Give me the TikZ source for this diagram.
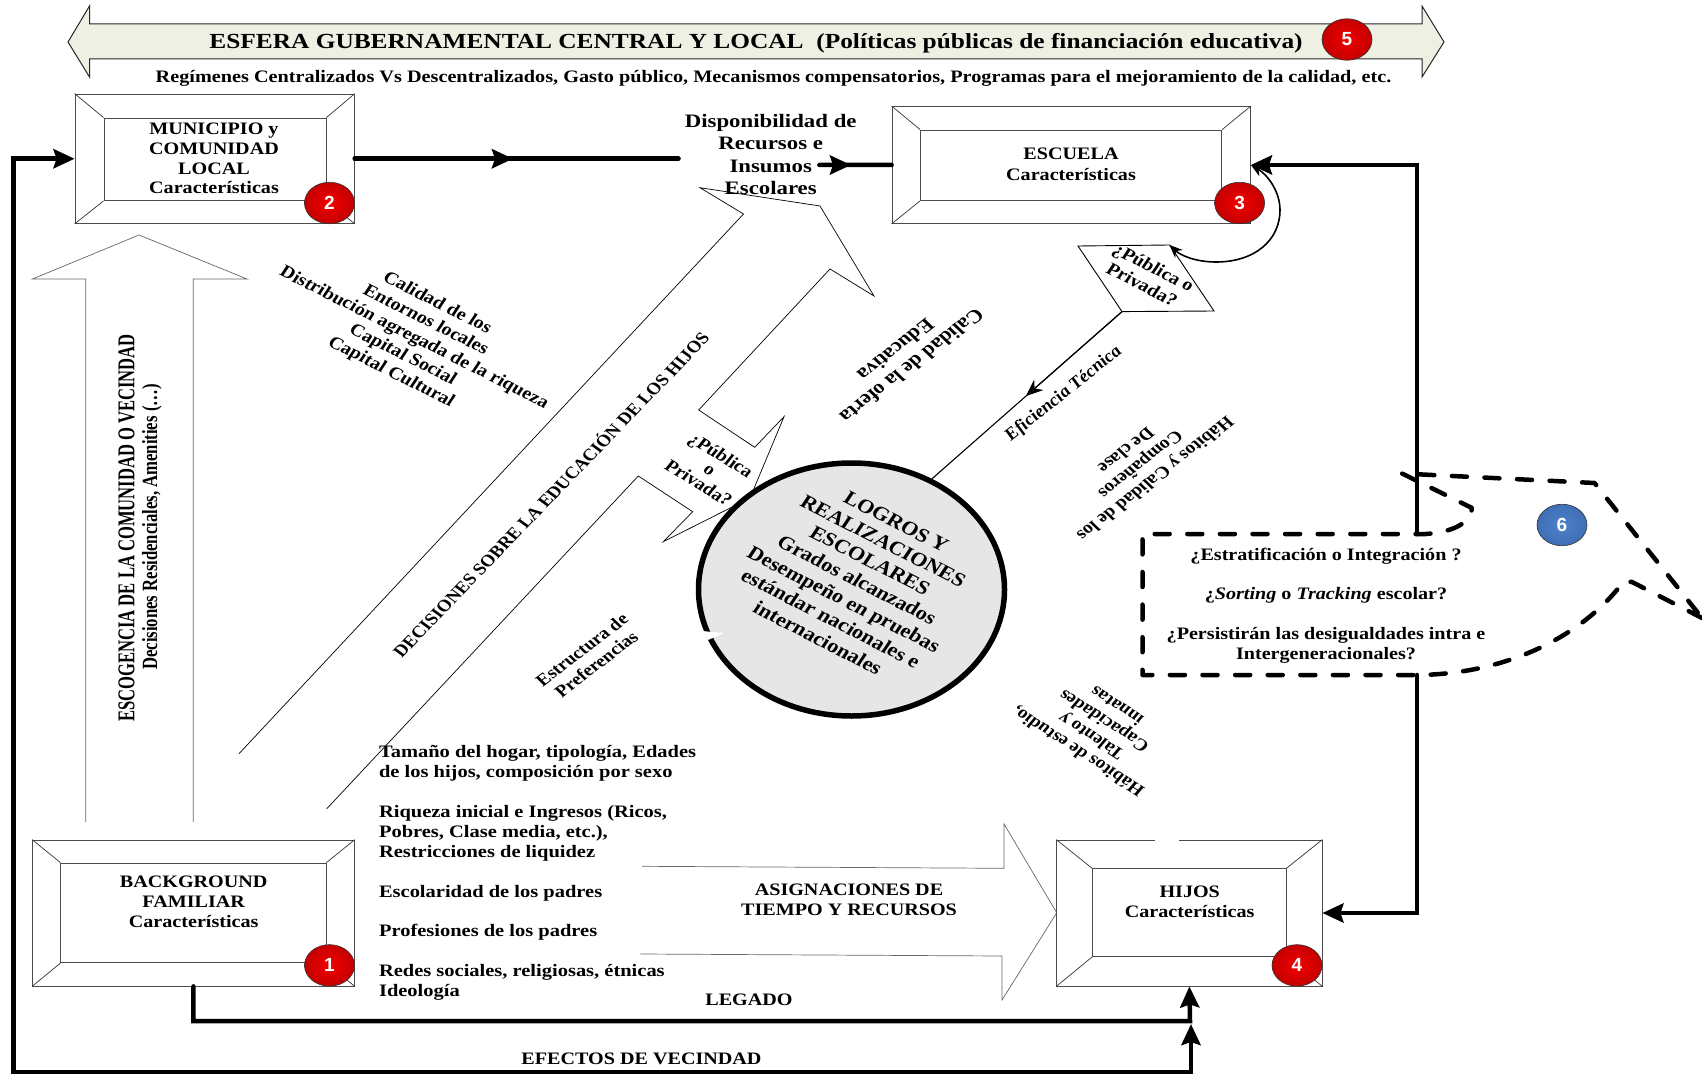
\documentclass[tikz,border=0pt]{standalone}
\usepackage{fontspec}
\setmainfont{Liberation Serif}
\newfontfamily\badgefont{Liberation Sans}
\usetikzlibrary{arrows.meta,shapes.geometric}
\definecolor{bannerfill}{HTML}{EEF0E4}
\definecolor{redin}{HTML}{F20000}
\definecolor{redout}{HTML}{C40000}
\definecolor{bluein}{HTML}{4F81C8}
\definecolor{blueout}{HTML}{3F6EB5}
\definecolor{circfill}{HTML}{E6E6E6}
\tikzset{
  heavy/.style={line width=4.5pt,line cap=round,line join=miter},
  bighead/.style={-{Stealth[length=21pt,width=19pt,inset=3pt]}},
  thinline/.style={line width=.7pt,draw=black},
  greyline/.style={line width=.7pt,draw=black!60},
  dashline/.style={line width=4.5pt,line cap=round,dash pattern=on 15pt off 17.6pt},
  outerbox/.style={rectangle,draw=black!70,line width=.8pt,inner sep=0pt},
  innerbox/.style={rectangle,draw=black!70,line width=.8pt,inner sep=0pt},
  badge/.style={ellipse,minimum width=50pt,minimum height=41.5pt,inner sep=0pt,draw=black!80,line width=.6pt,
     text=white,font=\badgefont\bfseries\fontsize{19}{19}\selectfont},
  redbadge/.style={badge,shade,inner color=redin,outer color=redout},
  bluebadge/.style={badge,shade,inner color=bluein,outer color=blueout},
}
% name,x,y,angle,size,leading,text ; optional: x stretch
\newcommand{\tx}[8][1.15]{\begin{scope}[shift={(#3,#4)},xscale=#1]
  \node[inner sep=0pt,align=center,rotate=#5,transform shape,font=\fontsize{#6}{#7}\selectfont\bfseries] (#2) {#8};
  \end{scope}}
\newcommand{\txl}[4]{\begin{scope}[shift={(378.8,#2)},xscale=1.17]
  \node[inner sep=0pt,align=left,anchor=west,transform shape,font=\fontsize{17.5}{19.8}\selectfont\bfseries] (#1) {#4};
  \end{scope}}
\newcommand{\bevelbox}[9]{%
  \node[outerbox,minimum width={#4-#2},minimum height={#5-#3}] (#1) at ({(#2+#4)/2},{(#3+#5)/2}) {};
  \node[innerbox,minimum width={#8-#6},minimum height={#9-#7}] (#1in) at ({(#6+#8)/2},{(#7+#9)/2}) {};
  \draw[thinline,draw=black!80] (#1.north west) -- (#1in.north west) (#1.north east) -- (#1in.north east)
     (#1.south west) -- (#1in.south west) (#1.south east) -- (#1in.south east);
}
\begin{document}
\begin{tikzpicture}[x=1pt,y=-1pt]
\useasboundingbox (0,0) rectangle (1702,1075);
\fill[white] (0,0) rectangle (1702,1075);

% banner arrow
\draw[fill=bannerfill,line width=1pt,draw=black!85] (68,42) -- (89.5,6) -- (89.5,24) -- (1422,24) -- (1422,6) -- (1444,42) -- (1422,77) -- (1422,59) -- (89.5,59) -- (89.5,77) -- cycle;
\tx[1.18]{bannertext}{756}{43}{0}{21.5}{24}{ESFERA GUBERNAMENTAL CENTRAL Y LOCAL\ \ (Políticas públicas de financiación educativa)}
\tx[1.157]{bannersub}{773.5}{78}{0}{17.5}{20}{Regímenes Centralizados Vs Descentralizados, Gasto público, Mecanismos compensatorios, Programas para el mejoramiento de la calidad, etc.}

% up arrow
\draw[greyline] (85.8,822) -- (85.8,279) -- (32.5,279) -- (139,235) -- (247,279) -- (193.2,279) -- (193.2,822);

% big diagonal double arrow
\draw[thinline] (239,753.7) -- (743.5,214) -- (700,187.7) -- (820,206) -- (874,296) -- (830,269) -- (698.7,410) -- (754.7,447.3) -- (784,416.7) -- (750,498) -- (663.3,541.7) -- (692.7,511.7) -- (638.3,476) -- (326.7,808.8);

% right arrow
\draw[greyline] (642,866.3) -- (1004,868.3) -- (1004,824) -- (1056.7,912.7) -- (1002,1000) -- (1002,956) -- (640.4,954);

% boxes
\bevelbox{box2}{75}{94}{354.4}{223.5}{104}{118}{326}{200.5}
\bevelbox{box3}{892}{106.4}{1250.5}{223.5}{920.5}{130}{1221.7}{200.4}
\bevelbox{box1}{32.5}{840}{354.4}{986}{60.8}{863}{326}{962.7}
\bevelbox{box4}{1056.7}{840}{1322}{986}{1092.5}{868.7}{1286}{956.5}
\fill[white] (1155,838) rectangle (1179,842);

% box texts
\tx{t2}{214}{158.5}{0}{17.5}{19.7}{MUNICIPIO y\\COMUNIDAD\\LOCAL\\Características}
\tx{t3}{1071}{164.3}{0}{17.5}{20.5}{ESCUELA\\Características}
\tx{t1}{193.7}{902}{0}{17.5}{20.2}{BACKGROUND\\FAMILIAR\\Características}
\tx{t4}{1189.7}{902}{0}{17.5}{20.4}{HIJOS\\Características}

% availability label
\tx[1.2]{dispo}{770.7}{154.7}{0}{19}{22.4}{Disponibilidad de\\Recursos e\\Insumos\\Escolares}

% central circle
\node[ellipse,draw=black,line width=5.5pt,fill=circfill,minimum width=306pt,minimum height=253pt,inner sep=0pt] (circ) at (851.5,589.5) {};
\fill[white] (702,631) -- (724,633) -- (708,640) -- cycle;
\tx{ct}{857}{580}{-30.4}{19.4}{22.5}{LOGROS Y\\REALIZACIONES\\ESCOLARES\\Grados alcanzados\\Desempeño en pruebas\\estándar nacionales e\\internacionales}

% parallelogram
\coordinate (ptl) at (1078,246);
\coordinate (ptr) at (1169.6,245);
\coordinate (pbr) at (1214,311);
\coordinate (pbl) at (1122,311.6);
\draw[line width=.9pt] (ptl) -- (ptr) -- (pbr) -- (pbl) -- cycle;
\tx{pt}{1148}{276}{-30.4}{17.5}{20}{¿Pública o\\Privada?}

% connectors
\coordinate (efJoin) at (1191,1024);
\coordinate (legJoin) at (13.5,1072);
\draw[heavy,bighead] (box1.south) |- (1190,1021) -- (box4.south);
\draw[heavy,{Stealth[length=21pt,width=19pt,inset=3pt]}-{Stealth[length=21pt,width=19pt,inset=3pt]}] (efJoin) -- (1191,1072) -- (legJoin) |- (box2.west);
\coordinate (m2) at (513,158.75);
\coordinate (d2) at (678.5,158.75);
\draw[heavy] (box2.east) -- (d2);
\draw[heavy,bighead] (box2.east) -- (m2);
\coordinate (d3) at (819.5,165);
\coordinate (m3) at (851,165);
\draw[heavy] (d3) -- (box3.west);
\draw[heavy,bighead] (d3) -- (m3);
\coordinate (top6) at (1417,534);
\coordinate (bot6) at (1417,675);
\draw[heavy,bighead] (top6) |- (box3.east);
\draw[heavy,bighead] (bot6) |- (box4.east);
\draw[line width=1.6pt,{Stealth[length=13pt,width=11pt]}-{Stealth[length=13pt,width=11pt]}] (ptr) .. controls (1180,255) and (1195,262) .. (1216,262) .. controls (1255,262) and (1280,240) .. (1280,210) .. controls (1280,192) and (1268,175) .. (box3.east);
\coordinate (effi) at (1026,396);
\draw[line width=1.1pt] (pbl) -- (circ.54.4);
\draw[line width=1.1pt,-{Stealth[length=17pt,width=14pt]}] (pbl) -- (effi);

% dashed callout
\draw[dashline,line join=round] (1702,618) -- (1632,582) -- (1624,581) .. controls (1580,640) and (1500,675) .. (1415,675) -- (1142.5,675) -- (1142.5,534) -- (1426,534) .. controls (1450,532) and (1470,525) .. (1472,508) -- (1402,473.5) -- (1594.5,483) -- (1702,618);

% left list
\txl{l1}{763}{}{Tamaño del hogar, tipología, Edades\\de los hijos, composición por sexo}
\txl{l2}{833}{}{Riqueza inicial e Ingresos (Ricos,\\Pobres, Clase media, etc.),\\Restricciones de liquidez}
\txl{l3}{893}{}{Escolaridad de los padres}
\txl{l4}{932}{}{Profesiones de los padres}
\txl{l5}{982}{}{Redes sociales, religiosas, étnicas\\Ideología}

% labels
\tx{asig}{849}{900}{0}{17.5}{20}{ASIGNACIONES DE\\TIEMPO Y RECURSOS}
\tx{leg}{749}{1000}{0}{17.5}{20}{LEGADO}
\tx{efe}{641.5}{1059}{0}{17.5}{20}{EFECTOS DE VECINDAD}
\tx[1.45]{esc}{126.5}{528}{90}{16.6}{20}{ESCOGENCIA DE LA COMUNIDAD O VECINDAD}
\tx[1.3]{dec}{152}{527}{90}{16.7}{20}{Decisiones Residenciales, Amenities (…)}
\tx{cal}{414}{338}{-30}{17.5}{20}{Calidad de los\\Entornos locales\\Distribución agregada de la riqueza\\Capital Social\\Capital Cultural}
\tx{decis}{550}{494}{50}{16.7}{18}{DECISIONES SOBRE LA EDUCACIÓN DE LOS HIJOS}
\tx{pub}{710}{469}{-35}{17.2}{17}{¿Pública\\o\\Privada?}
\tx{estr}{589}{657}{41.4}{17}{19}{Estructura de\\Preferencias}
\tx{ofer}{904}{358}{222}{19}{21}{Calidad de la oferta\\Educativa}
\tx{efic}{1063.7}{394}{42.6}{17}{20}{\itshape Eficiencia Técnica}
\tx{hab}{1141}{465}{222}{17}{19}{Hábitos y Calidad de los\\Compañeros\\De clase}
\tx{hab2}{1097}{729}{143.6}{17}{19}{Hábitos de estudio,\\Talento y\\Capacidades\\innatas}
\tx{q1}{1326}{556.5}{0}{17.5}{20}{¿Estratificación o Integración ?}
\tx{q2}{1326}{595.4}{0}{17.5}{20}{¿{\itshape Sorting} o {\itshape Tracking} escolar?}
\tx{q3}{1326}{645.3}{0}{17.5}{20}{¿Persistirán las desigualdades intra e\\Intergeneracionales?}

% badges
\node[redbadge] (b1) at (329.5,965.4) {1};
\node[redbadge] (b2) at (329.5,203) {2};
\node[redbadge] (b3) at (1239.6,203) {3};
\node[redbadge] (b4) at (1297,965.4) {4};
\node[redbadge] (b5) at (1347,39.5) {5};
\node[bluebadge] (b6) at (1562,525) {6};
\end{tikzpicture}
\end{document}
